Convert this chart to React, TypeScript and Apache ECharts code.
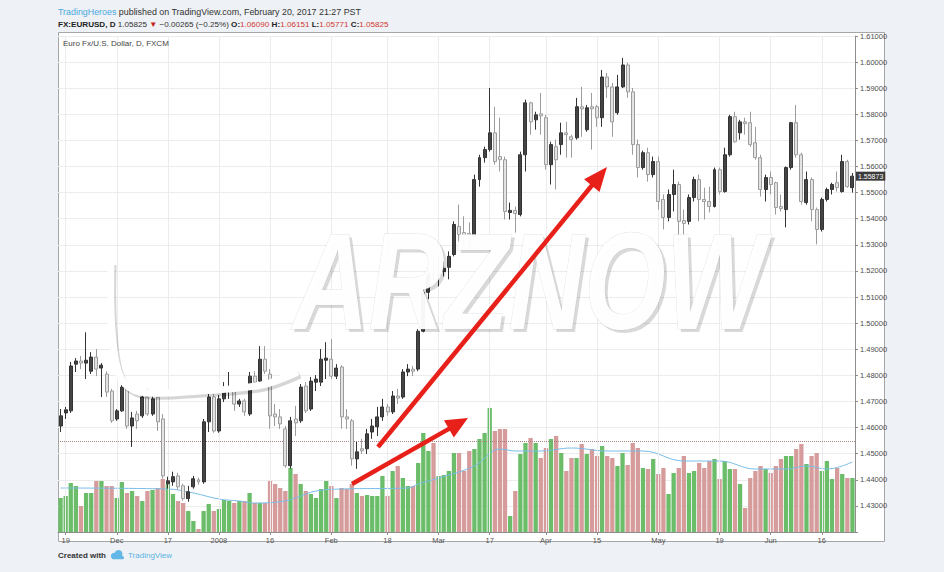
import React, { useEffect, useRef } from 'react';
import * as echarts from 'echarts';

// ---- Daily EUR/USD candles (FXCM), Nov 16 2007 .. Jun 24 2008 ----
const opens = [
  1.4606, 1.4656, 1.4664, 1.4843, 1.4855, 1.4847, 1.4816, 1.4870, 1.4828, 1.4805,
  1.4740, 1.4633, 1.4664, 1.4755, 1.4606, 1.4652, 1.4645, 1.4717, 1.4652, 1.4717,
  1.4633, 1.4385, 1.4392, 1.4415, 1.4377, 1.4328, 1.4373, 1.4400, 1.4392, 1.4622,
  1.4717, 1.4587, 1.4710, 1.4744, 1.4748, 1.4690, 1.4702, 1.4652, 1.4797, 1.4778,
  1.4862, 1.4805, 1.4652, 1.4641, 1.4595, 1.4454, 1.4633, 1.4626, 1.4759, 1.4671,
  1.4774, 1.4774, 1.4858, 1.4862, 1.4797, 1.4832, 1.4641, 1.4626, 1.4480, 1.4519,
  1.4519, 1.4583, 1.4603, 1.4641, 1.4679, 1.4660, 1.4721, 1.4717, 1.4813, 1.4824,
  1.4824, 1.4969, 1.5118, 1.5191, 1.5183, 1.5198, 1.5214, 1.5263, 1.5370, 1.5347,
  1.5344, 1.5332, 1.5550, 1.5634, 1.5665, 1.5729, 1.5638, 1.5626, 1.5424, 1.5432,
  1.5416, 1.5645, 1.5844, 1.5779, 1.5802, 1.5787, 1.5607, 1.5676, 1.5684, 1.5729,
  1.5714, 1.5710, 1.5829, 1.5741, 1.5829, 1.5829, 1.5787, 1.5943, 1.5905, 1.5806,
  1.5905, 1.5989, 1.5886, 1.5684, 1.5596, 1.5653, 1.5569, 1.5619, 1.5474, 1.5405,
  1.5493, 1.5531, 1.5393, 1.5390, 1.5481, 1.5550, 1.5474, 1.5466, 1.5447, 1.5588,
  1.5504, 1.5645, 1.5791, 1.5729, 1.5771, 1.5768, 1.5691, 1.5634, 1.5512, 1.5558,
  1.5538, 1.5447, 1.5435, 1.5596, 1.5768, 1.5645, 1.5462, 1.5550, 1.5435, 1.5359,
  1.5474, 1.5512, 1.5538, 1.5504, 1.5619, 1.5519,
];
const closes = [
  1.4645, 1.4668, 1.4836, 1.4855, 1.4847, 1.4858, 1.4870, 1.4824, 1.4839, 1.4736,
  1.4626, 1.4664, 1.4755, 1.4606, 1.4637, 1.4626, 1.4717, 1.4652, 1.4710, 1.4622,
  1.4415, 1.4396, 1.4412, 1.4373, 1.4328, 1.4354, 1.4404, 1.4392, 1.4622, 1.4717,
  1.4587, 1.4710, 1.4748, 1.4755, 1.4690, 1.4702, 1.4660, 1.4797, 1.4774, 1.4862,
  1.4816, 1.4645, 1.4641, 1.4614, 1.4454, 1.4626, 1.4618, 1.4755, 1.4664, 1.4778,
  1.4786, 1.4862, 1.4866, 1.4797, 1.4828, 1.4641, 1.4633, 1.4480, 1.4507, 1.4511,
  1.4576, 1.4606, 1.4641, 1.4679, 1.4660, 1.4721, 1.4713, 1.4813, 1.4824, 1.4816,
  1.4969, 1.5118, 1.5187, 1.5183, 1.5191, 1.5210, 1.5256, 1.5378, 1.5340, 1.5336,
  1.5336, 1.5550, 1.5634, 1.5665, 1.5729, 1.5619, 1.5626, 1.5428, 1.5432, 1.5420,
  1.5645, 1.5844, 1.5771, 1.5798, 1.5794, 1.5607, 1.5684, 1.5626, 1.5729, 1.5722,
  1.5703, 1.5829, 1.5821, 1.5825, 1.5821, 1.5787, 1.5943, 1.5905, 1.5771, 1.5905,
  1.5989, 1.5886, 1.5684, 1.5596, 1.5653, 1.5569, 1.5619, 1.5466, 1.5405, 1.5493,
  1.5531, 1.5390, 1.5382, 1.5481, 1.5550, 1.5474, 1.5466, 1.5447, 1.5588, 1.5504,
  1.5645, 1.5791, 1.5695, 1.5771, 1.5764, 1.5684, 1.5634, 1.5512, 1.5558, 1.5531,
  1.5443, 1.5439, 1.5596, 1.5768, 1.5645, 1.5466, 1.5550, 1.5435, 1.5359, 1.5474,
  1.5512, 1.5531, 1.5519, 1.5619, 1.5523, 1.5563,
];
const lows = [
  1.4583, 1.4633, 1.4656, 1.4813, 1.4824, 1.4786, 1.4805, 1.4797, 1.4717, 1.4717,
  1.4618, 1.4626, 1.4660, 1.4595, 1.4526, 1.4595, 1.4637, 1.4645, 1.4645, 1.4587,
  1.4404, 1.4366, 1.4377, 1.4362, 1.4320, 1.4316, 1.4366, 1.4381, 1.4385, 1.4583,
  1.4580, 1.4580, 1.4698, 1.4710, 1.4664, 1.4679, 1.4645, 1.4645, 1.4763, 1.4771,
  1.4805, 1.4595, 1.4606, 1.4595, 1.4446, 1.4442, 1.4568, 1.4618, 1.4656, 1.4664,
  1.4740, 1.4759, 1.4786, 1.4786, 1.4786, 1.4595, 1.4595, 1.4454, 1.4442, 1.4499,
  1.4499, 1.4557, 1.4568, 1.4626, 1.4645, 1.4652, 1.4690, 1.4710, 1.4797, 1.4797,
  1.4816, 1.4965, 1.5092, 1.5149, 1.5141, 1.5179, 1.5168, 1.5256, 1.5313, 1.5302,
  1.5283, 1.5328, 1.5523, 1.5615, 1.5657, 1.5607, 1.5581, 1.5397, 1.5397, 1.5347,
  1.5409, 1.5581, 1.5722, 1.5741, 1.5722, 1.5588, 1.5531, 1.5512, 1.5645, 1.5634,
  1.5634, 1.5703, 1.5714, 1.5733, 1.5665, 1.5752, 1.5752, 1.5863, 1.5714, 1.5798,
  1.5901, 1.5863, 1.5645, 1.5558, 1.5588, 1.5542, 1.5558, 1.5435, 1.5359, 1.5390,
  1.5428, 1.5290, 1.5340, 1.5378, 1.5466, 1.5390, 1.5397, 1.5424, 1.5443, 1.5493,
  1.5500, 1.5638, 1.5691, 1.5703, 1.5722, 1.5676, 1.5626, 1.5485, 1.5466, 1.5493,
  1.5416, 1.5428, 1.5367, 1.5588, 1.5634, 1.5454, 1.5454, 1.5390, 1.5302, 1.5351,
  1.5466, 1.5493, 1.5504, 1.5500, 1.5519, 1.5500,
];
const highs = [
  1.4671, 1.4679, 1.4851, 1.4866, 1.4874, 1.4965, 1.4889, 1.4901, 1.4847, 1.4816,
  1.4748, 1.4671, 1.4767, 1.4774, 1.4660, 1.4664, 1.4729, 1.4748, 1.4721, 1.4736,
  1.4652, 1.4412, 1.4431, 1.4427, 1.4385, 1.4377, 1.4415, 1.4408, 1.4633, 1.4729,
  1.4729, 1.4725, 1.4774, 1.4813, 1.4763, 1.4710, 1.4710, 1.4813, 1.4816, 1.4912,
  1.4912, 1.4824, 1.4690, 1.4671, 1.4606, 1.4641, 1.4683, 1.4767, 1.4774, 1.4794,
  1.4801, 1.4901, 1.4927, 1.4939, 1.4843, 1.4839, 1.4671, 1.4633, 1.4545, 1.4557,
  1.4595, 1.4633, 1.4679, 1.4710, 1.4690, 1.4740, 1.4748, 1.4824, 1.4843, 1.4836,
  1.4977, 1.5130, 1.5206, 1.5237, 1.5256, 1.5237, 1.5275, 1.5390, 1.5454, 1.5409,
  1.5386, 1.5569, 1.5645, 1.5676, 1.5901, 1.5829, 1.5787, 1.5638, 1.5462, 1.5447,
  1.5657, 1.5856, 1.5848, 1.5810, 1.5882, 1.5798, 1.5695, 1.5703, 1.5768, 1.5771,
  1.5722, 1.5863, 1.5905, 1.5836, 1.5882, 1.5836, 1.5970, 1.5959, 1.5920, 1.5951,
  1.6016, 1.5997, 1.5901, 1.5703, 1.5661, 1.5672, 1.5638, 1.5638, 1.5493, 1.5512,
  1.5588, 1.5542, 1.5435, 1.5493, 1.5561, 1.5569, 1.5519, 1.5523, 1.5596, 1.5596,
  1.5672, 1.5798, 1.5810, 1.5779, 1.5787, 1.5810, 1.5752, 1.5645, 1.5569, 1.5581,
  1.5542, 1.5493, 1.5600, 1.5771, 1.5836, 1.5653, 1.5581, 1.5558, 1.5443, 1.5481,
  1.5519, 1.5538, 1.5581, 1.5645, 1.5626, 1.5575,
];
// relative volume (arbitrary units)
const volumes = [
  34, 36, 49, 46, 26, 39, 39, 51, 51, 46,
  46, 34, 50, 39, 41, 36, 31, 41, 42, 44,
  53, 48, 38, 31, 29, 21, 11, 3, 21, 28,
  21, 23, 32, 31, 29, 31, 31, 39, 29, 29,
  29, 51, 48, 44, 41, 64, 58, 48, 41, 38,
  34, 43, 51, 46, 34, 44, 43, 48, 39, 36,
  37, 36, 36, 56, 36, 61, 66, 54, 46, 46,
  69, 99, 81, 89, 56, 57, 61, 79, 79, 61,
  81, 83, 93, 99, 124, 101, 103, 103, 16, 41,
  78, 89, 94, 89, 74, 84, 93, 96, 79, 61,
  74, 74, 88, 78, 83, 76, 86, 76, 74, 66,
  79, 67, 89, 84, 64, 63, 73, 58, 64, 38,
  59, 64, 76, 59, 61, 69, 64, 71, 73, 53,
  71, 63, 63, 48, 24, 54, 61, 66, 63, 59,
  66, 73, 76, 76, 83, 88, 68, 76, 79, 61,
  71, 53, 64, 58, 54, 54,
];
// volume moving average, read at sample bars (bar index, value)
const volumeMAIndex = [0, 21, 26, 31, 35, 38, 44, 47, 50, 55, 68, 70, 74, 81, 86, 89, 94, 100, 107, 114, 122, 129, 136, 142, 146, 150, 155];
const volumeMAValues = [44, 43, 39, 33, 31, 29, 31, 36, 41, 43, 44, 48, 54, 66, 83, 81, 81, 84, 81, 81, 71, 71, 63, 63, 66, 63, 70];

const START_DATE = '2007-11-16';
const HOLIDAYS = ['2007-12-25', '2008-01-01'];
const tickDates = ['2007-11-19', '2007-12-03', '2007-12-17', '2008-01-02', '2008-01-16', '2008-02-01', '2008-02-18', '2008-03-03', '2008-03-17', '2008-04-01', '2008-04-15', '2008-05-01', '2008-05-19', '2008-06-02', '2008-06-16'];
const tickLabels = ['19', 'Dec', '17', '2008', '16', 'Feb', '18', 'Mar', '17', 'Apr', '15', 'May', '19', 'Jun', '16'];
const lastPriceText = '1.55873';
const dottedLevel = 1.4549;

const FONT = '"Liberation Sans", Arial, sans-serif';

function buildDates(n: number): string[] {
  const out: string[] = [];
  const d = new Date(START_DATE + 'T00:00:00Z');
  while (out.length < n) {
    const wd = d.getUTCDay();
    const s = d.toISOString().slice(0, 10);
    if (wd !== 0 && wd !== 6 && HOLIDAYS.indexOf(s) < 0) out.push(s);
    d.setUTCDate(d.getUTCDate() + 1);
  }
  return out;
}

function arrow(x1: number, y1: number, x2: number, y2: number, headLen: number, halfW: number, color: string, width: number) {
  const dx = x2 - x1, dy = y2 - y1, L = Math.hypot(dx, dy);
  const ux = dx / L, uy = dy / L;
  const bx = x2 - ux * headLen, by = y2 - uy * headLen;
  const nx = -uy, ny = ux;
  return [
    { type: 'line', z: 100, shape: { x1, y1, x2: bx + ux * 2, y2: by + uy * 2 }, style: { stroke: color, lineWidth: width, lineCap: 'butt' } },
    { type: 'polygon', z: 100, shape: { points: [[x2, y2], [bx + nx * halfW, by + ny * halfW], [bx - nx * halfW, by - ny * halfW]] }, style: { fill: color } },
  ];
}

export default function App() {
  const ref = useRef<HTMLDivElement>(null);
  useEffect(() => {
    if (!ref.current) return;
    const chart = echarts.init(ref.current, undefined, { renderer: 'svg' });
    const dates = buildDates(opens.length);
    const labelFor: Record<number, string> = {};
    tickDates.forEach((d, i) => { labelFor[dates.indexOf(d)] = tickLabels[i]; });
    const isTick = (i: number) => labelFor[i] !== undefined;

    const GREEN = '#6cbd6a';
    const RED = '#d69b9b';
    const candleData = opens.map((o, i) => [o, closes[i], lows[i], highs[i]]);
    const volData = volumes.map((v, i) => ({ value: v, itemStyle: { color: closes[i] >= opens[i] ? GREEN : RED } }));
    const maData = volumeMAIndex.map((ix, k) => [ix, volumeMAValues[k]]);
    const lastClose = closes[closes.length - 1];

    const red = '#e8201a';
    const wmBase = { fontSize: 138, fontStyle: 'italic', fontWeight: 'bold', fontFamily: FONT, verticalAlign: 'top', text: 'ARZNOW' };
    const option: any = {
      animation: false,
      backgroundColor: '#eef1f5',
      textStyle: { fontFamily: FONT },
      grid: [
        { left: 58, right: 89, top: 36, bottom: 40 },
        { left: 58, right: 89, top: 392, bottom: 40 },
      ],
      xAxis: [
        {
          type: 'category', data: dates, gridIndex: 0, boundaryGap: true,
          axisLine: { show: true, lineStyle: { color: '#8e8e8e' } },
          axisTick: { show: true, alignWithLabel: true, length: 3, interval: (i: number) => isTick(i), lineStyle: { color: '#8e8e8e' } },
          axisLabel: { interval: (i: number) => isTick(i), formatter: (_v: string, i: number) => labelFor[i] ?? '', fontSize: 7.5, color: '#555', margin: 4, fontFamily: FONT },
          splitLine: { show: false },
        },
        { type: 'category', data: dates, gridIndex: 1, boundaryGap: true, show: false },
      ],
      yAxis: [
        {
          type: 'value', gridIndex: 0, position: 'right', min: 1.42, max: 1.61, interval: 0.01,
          axisLine: { show: true, lineStyle: { color: '#8e8e8e' } },
          axisTick: { show: true, length: 3, lineStyle: { color: '#8e8e8e' } },
          axisLabel: { fontSize: 7.5, color: '#4d4d4d', margin: 5, fontFamily: FONT, formatter: (v: number) => (v < 1.425 ? '' : v.toFixed(5)) },
          splitLine: { show: true, lineStyle: { color: '#ececec', width: 1 } },
        },
        { type: 'value', gridIndex: 1, min: 0, max: 140, show: false },
      ],
      series: [
        {
          name: 'vgrid', type: 'line', xAxisIndex: 0, yAxisIndex: 0, data: [], z: 1, silent: true,
          markLine: {
            silent: true, symbol: 'none', animation: false,
            label: { show: false },
            lineStyle: { color: '#ececec', type: 'solid', width: 1 },
            data: tickDates.map((d) => ({ xAxis: d })),
          },
        },
        {
          name: 'Volume', type: 'bar', xAxisIndex: 1, yAxisIndex: 1, data: volData, barWidth: '84%', z: 2,
        },
        {
          name: 'Volume MA', type: 'line', xAxisIndex: 1, yAxisIndex: 1, data: maData, smooth: 0.4, symbol: 'none', z: 3,
          lineStyle: { color: '#79bde8', width: 1 },
        },
        {
          name: 'EURUSD', type: 'candlestick', xAxisIndex: 0, yAxisIndex: 0, data: candleData, barWidth: '68%', z: 5,
          itemStyle: { color: '#454545', color0: '#e3e3e3', borderColor: '#333333', borderColor0: '#9c9c9c', borderWidth: 1 },
          markLine: {
            silent: true, symbol: 'none', animation: false, precision: 5,
            data: [
              { yAxis: dottedLevel, lineStyle: { color: '#a98080', type: 'dotted', width: 1 }, label: { show: false } },
              {
                yAxis: lastClose, lineStyle: { color: 'rgba(0,0,0,0)', width: 0 },
                label: { show: true, position: 'end', distance: 1, formatter: lastPriceText, color: '#ffffff', backgroundColor: '#3b3b3b', fontSize: 7, padding: [1, 2, 1, 2], fontFamily: FONT },
              },
            ],
          },
        },
      ],
      graphic: [
        { type: 'rect', z: -10, silent: true, shape: { x: 58.5, y: 32.5, width: 826, height: 509 }, style: { fill: '#ffffff', stroke: '#a6a6a6', lineWidth: 1 } },
        {
          type: 'text', x: 58, y: 7, z: 50,
          style: {
            text: '{b|TradingHeroes} published on TradingView.com, February 20, 2017 21:27 PST',
            fontSize: 8.9, fontFamily: FONT, fill: '#333', verticalAlign: 'top',
            rich: { b: { fill: '#4aa9e0', fontSize: 8.9, fontFamily: FONT } },
          },
        },
        {
          type: 'text', x: 58, y: 20, z: 50,
          style: {
            text: '{k|FX:EURUSD, D} 1.05825 {t|▼} −0.00265 (−0.25%) {k|O:}{r|1.06090} {k|H:}{r|1.06151} {k|L:}{r|1.05771} {k|C:}{r|1.05825}',
            fontSize: 8.1, fontFamily: FONT, fill: '#333', verticalAlign: 'top',
            rich: {
              k: { fontSize: 8.1, fontWeight: 'bold', fontFamily: FONT, fill: '#222' },
              r: { fontSize: 8.1, fontFamily: FONT, fill: '#d23a33' },
              t: { fontSize: 8.1, fontFamily: FONT, fill: '#c8201a' },
            },
          },
        },
        { type: 'text', x: 63, y: 39, z: 50, style: { text: 'Euro Fx/U.S. Dollar, D, FXCM', fontSize: 8, fontFamily: FONT, fill: '#444', verticalAlign: 'top' } },
        { type: 'text', x: 58, y: 551, z: 50, style: { text: 'Created with', fontSize: 8, fontWeight: 'bold', fontFamily: FONT, fill: '#333', verticalAlign: 'top' } },
        { type: 'circle', z: 50, shape: { cx: 114, cy: 556, r: 3.2 }, style: { fill: '#63b7e6' } },
        { type: 'circle', z: 50, shape: { cx: 118.5, cy: 554, r: 4 }, style: { fill: '#63b7e6' } },
        { type: 'rect', z: 50, shape: { x: 112, y: 556, width: 12, height: 3.2, r: 1.5 }, style: { fill: '#63b7e6' } },
        { type: 'text', x: 128, y: 551, z: 50, style: { text: 'TradingView', fontSize: 8, fontFamily: FONT, fill: '#5ab3e4', verticalAlign: 'top' } },
        // watermark
        {
          type: 'polyline', z: 90, silent: true,
          shape: { points: [[111, 262], [112, 330], [121, 378], [140, 392], [200, 391], [262, 385], [298, 372]], smooth: 0.35 },
          style: { stroke: 'rgba(0,0,0,0.16)', lineWidth: 7, fill: null },
          position: [2, 3],
        },
        {
          type: 'polyline', z: 91, silent: true,
          shape: { points: [[111, 262], [112, 330], [121, 378], [140, 392], [200, 391], [262, 385], [298, 372]], smooth: 0.35 },
          style: { stroke: '#ffffff', lineWidth: 7, fill: null },
        },
        {
          type: 'text', x: 296, y: 215, z: 90, silent: true, scaleX: 0.76,
          style: { ...wmBase, fill: 'rgba(0,0,0,0.15)' },
        },
        {
          type: 'text', x: 293, y: 212, z: 91, silent: true, scaleX: 0.76,
          style: { ...wmBase, fill: 'rgba(255,255,255,0.96)', stroke: 'rgba(170,170,170,0.35)', lineWidth: 1 },
        },
        ...arrow(378, 447, 607, 167, 24, 10, red, 4.5),
        ...arrow(352, 484, 468, 418, 22, 10, red, 4.5),
      ],
    };
    chart.setOption(option);
    return () => chart.dispose();
  }, []);
  return (
    <div style={{ position: 'absolute', left: 0, top: 0, width: 944, height: 572 }}>
      <div ref={ref} style={{ width: 944, height: 572 }} />
    </div>
  );
}
